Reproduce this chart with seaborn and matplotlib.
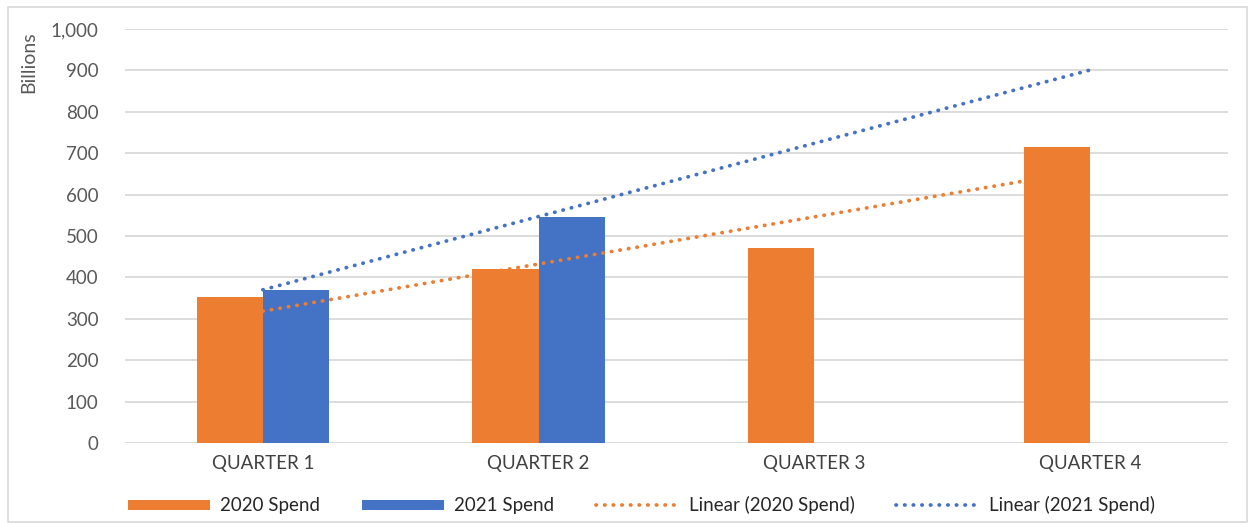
import numpy as np
import pandas as pd
import matplotlib
matplotlib.use("Agg")
import matplotlib.pyplot as plt
from matplotlib.lines import Line2D
from matplotlib.patches import Patch, Rectangle
import seaborn as sns

# Quarterly spend, in billions
quarters = ["QUARTER 1", "QUARTER 2", "QUARTER 3", "QUARTER 4"]
spend_2020 = [352, 420, 470, 715]
spend_2021 = [370, 547, np.nan, np.nan]
series_names = ["2020 Spend", "2021 Spend"]
y_ticks = [0, 100, 200, 300, 400, 500, 600, 700, 800, 900, 1000]

ORANGE = "#ED7D31"
BLUE = "#4472C4"
GRID = "#D9D9D9"
TEXT = "#595959"

sns.set_theme(style="white")
plt.rcParams["font.family"] = ["Lato", "DejaVu Sans"]

df = pd.DataFrame({
    "quarter": quarters * 2,
    "series": [series_names[0]] * 4 + [series_names[1]] * 4,
    "value": spend_2020 + spend_2021,
})

fig = plt.figure(figsize=(12.52, 5.23), dpi=100)
ax = fig.add_axes([0.0998, 0.153, 0.8812, 0.7916])

sns.barplot(data=df, x="quarter", y="value", hue="series",
            palette=[ORANGE, BLUE], width=0.48, dodge=True,
            saturation=1, ax=ax, legend=False, linewidth=0, zorder=3)

# orange bars sit above the 2020 trendline, blue bars below it
blue_rgb = matplotlib.colors.to_rgb(BLUE)
for bar in ax.patches:
    fc = bar.get_facecolor()
    bar.set_zorder(2 if abs(fc[2] - blue_rgb[2]) < 0.05 else 4)

# linear trendlines over the category positions
xs = np.arange(len(quarters))
dot_style = dict(linestyle=(0, (0.1, 2.2)), linewidth=2.7,
                 dash_capstyle="round")
y20 = np.array(spend_2020, dtype=float)
m20 = ~np.isnan(y20)
p20 = np.polyfit(xs[m20], y20[m20], 1)
ax.plot(xs, np.polyval(p20, xs), color=ORANGE, zorder=3, **dot_style)

y21 = np.array(spend_2021, dtype=float)
m21 = ~np.isnan(y21)
p21 = np.polyfit(xs[m21], y21[m21], 1)
ax.plot(xs, np.polyval(p21, xs), color=BLUE, zorder=5, **dot_style)

ax.set_xlim(-0.5, len(quarters) - 0.5)
ax.set_ylim(0, 1000)
ax.set_yticks(y_ticks)
ax.set_yticklabels([f"{v:,}" for v in y_ticks])
ax.yaxis.grid(True, color=GRID, linewidth=1.3, zorder=0)
ax.set_axisbelow(True)
for s in ax.spines.values():
    s.set_visible(False)
ax.tick_params(axis="both", length=0, labelsize=13.5, colors=TEXT)
ax.tick_params(axis="y", pad=19)
ax.tick_params(axis="x", pad=9)
for lbl in ax.get_xticklabels():
    lbl.set_color("#404040")
ax.set_xlabel("")
ax.set_ylabel("")
fig.text(29 / 1252, 1 - 62 / 523, "Billions", rotation=90, ha="center",
         va="center", fontsize=14, color=TEXT)

handles = [
    Patch(facecolor=ORANGE, edgecolor="none"),
    Patch(facecolor=BLUE, edgecolor="none"),
    Line2D([0], [0], color=ORANGE, **dot_style),
    Line2D([0], [0], color=BLUE, **dot_style),
]
labels = series_names + [f"Linear ({series_names[0]})", f"Linear ({series_names[1]})"]
fig.legend(handles, labels, loc="center", bbox_to_anchor=(0.512, 0.034),
           ncol=4, frameon=False, fontsize=13.5, handlelength=4.4,
           handleheight=0.45, columnspacing=2.2, handletextpad=0.55,
           labelcolor="#262626")

fig.patches.append(Rectangle((0.006, 0.002), 0.99, 0.984, transform=fig.transFigure,
                             fill=False, edgecolor="#D9D9D9", linewidth=1.2))

fig.savefig("out.png", dpi=100, facecolor="white")
